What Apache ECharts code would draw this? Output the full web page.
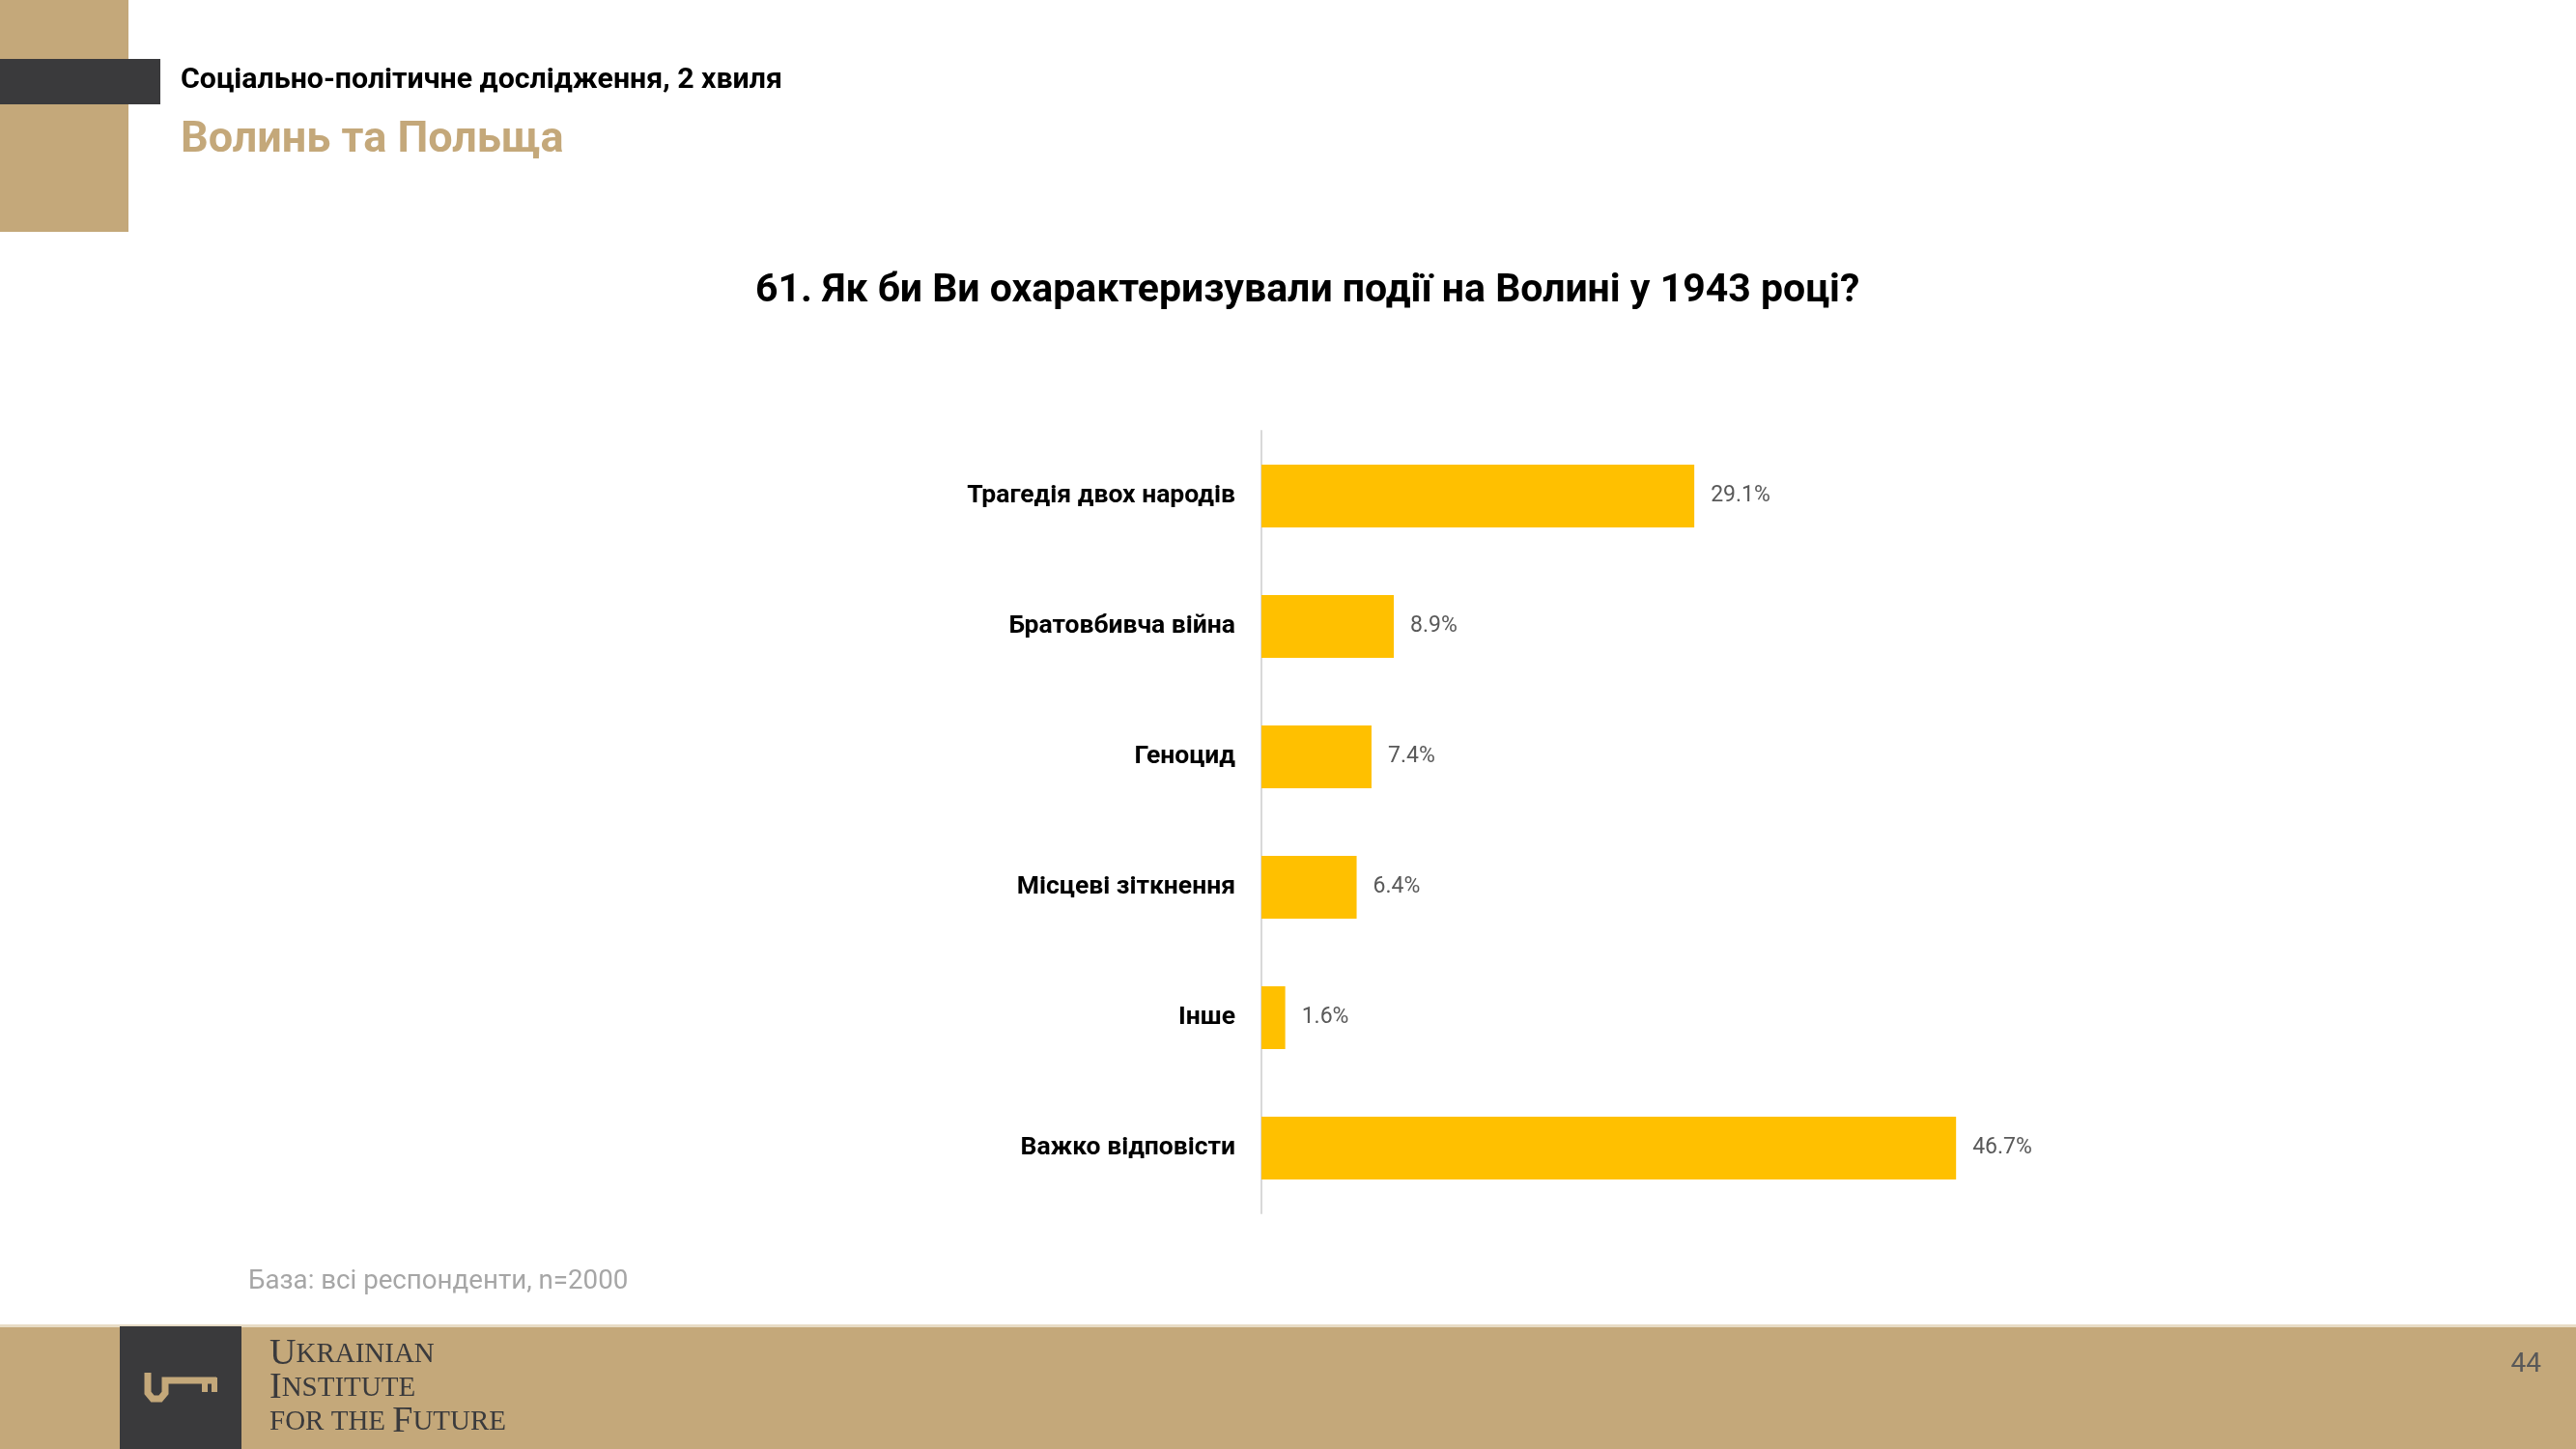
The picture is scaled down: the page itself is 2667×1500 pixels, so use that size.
<!DOCTYPE html>
<html>
<head>
<meta charset="utf-8">
<script src="https://cdn.jsdelivr.net/npm/echarts@6/dist/echarts.min.js"></script>
<style>
html,body{margin:0;padding:0;background:#fff;}
#chart{width:2667px;height:1500px;}
</style>
</head>
<body>
<div id="chart"></div>
<script>
const categories = ['Трагедія двох народів', 'Братовбивча війна', 'Геноцид', 'Місцеві зіткнення', 'Інше', 'Важко відповісти'];
const values = [29.1, 8.9, 7.4, 6.4, 1.6, 46.7];
const headerTitle = 'Соціально-політичне дослідження, 2 хвиля';
const sectionTitle = 'Волинь та Польща';
const chartTitle = '61. Як би Ви охарактеризували події на Волині у 1943 році?';
const baseNote = 'База: всі респонденти, n=2000';
const pageNumber = '44';

const TAN = '#C4A87A';
const DARK = '#3A3A3C';
const FONT = 'Roboto, "Open Sans", sans-serif';
const SERIF = '"Liberation Serif", serif';

const chart = echarts.init(document.getElementById('chart'));
chart.setOption({
  backgroundColor: '#fff',
  animation: false,
  title: {
    text: chartTitle,
    left: 777,
    top: 276,
    textStyle: {fontFamily: FONT, fontSize: 41, fontWeight: 'bold', color: '#000'}
  },
  grid: {left: 1306, top: 446, width: 770, height: 810, containLabel: false},
  xAxis: {
    type: 'value', min: 0, max: 50, show: false
  },
  yAxis: {
    type: 'category',
    data: categories,
    inverse: true,
    axisLine: {show: true, lineStyle: {color: '#D9D9D9', width: 2}},
    axisTick: {show: false},
    axisLabel: {margin: 27, fontFamily: FONT, fontSize: 26.5, fontWeight: 'bold', color: '#000'}
  },
  series: [{
    type: 'bar',
    data: values,
    barWidth: '48%',
    itemStyle: {color: '#FFC000'},
    label: {
      show: true, position: 'right', distance: 17,
      formatter: p => p.value.toFixed(1) + '%',
      fontFamily: FONT, fontSize: 23, color: '#595959'
    }
  }],
  graphic: [
    {type: 'rect', shape: {x: 0, y: 0, width: 133, height: 240}, style: {fill: TAN}, z: 1},
    {type: 'rect', shape: {x: 0, y: 61, width: 166, height: 47}, style: {fill: DARK}, z: 2},
    {type: 'text', x: 187, y: 83, style: {text: headerTitle, fontFamily: FONT, fontSize: 30.3, fontWeight: 'bold', fill: '#000', textVerticalAlign: 'middle'}},
    {type: 'text', x: 187, y: 146, style: {text: sectionTitle, fontFamily: FONT, fontSize: 45, fontWeight: 'bold', fill: TAN, textVerticalAlign: 'middle'}},
    {type: 'text', x: 257, y: 1327, style: {text: baseNote, fontFamily: FONT, fontSize: 27.7, fill: '#A6A6A6', textVerticalAlign: 'middle'}},
    {type: 'rect', shape: {x: 0, y: 1373, width: 2667, height: 127}, style: {fill: TAN}, z: 1},
    {type: 'rect', shape: {x: 0, y: 1371, width: 2667, height: 3}, style: {fill: '#E8DCC6'}, z: 1},
    {type: 'rect', shape: {x: 124, y: 1373, width: 126, height: 127}, style: {fill: DARK}, z: 2},
    {type: 'polyline', shape: {points: [[153, 1421], [153, 1442], [158, 1448], [166, 1448], [171, 1442], [171, 1429], [224, 1429]]}, style: {stroke: TAN, lineWidth: 7, fill: null}, z: 3},
    {type: 'rect', shape: {x: 209, y: 1426, width: 6, height: 15}, style: {fill: TAN}, z: 3},
    {type: 'rect', shape: {x: 219, y: 1426, width: 6, height: 15}, style: {fill: TAN}, z: 3},
    {type: 'text', x: 279, y: 1402, z: 3, style: {
      rich: {b: {fontFamily: SERIF, fontSize: 38, fill: DARK}, s: {fontFamily: SERIF, fontSize: 29, fill: DARK}},
      text: '{b|U}{s|KRAINIAN}', textVerticalAlign: 'middle'
    }},
    {type: 'text', x: 279, y: 1437, z: 3, style: {
      rich: {b: {fontFamily: SERIF, fontSize: 38, fill: DARK}, s: {fontFamily: SERIF, fontSize: 29, fill: DARK}},
      text: '{b|I}{s|NSTITUTE}', textVerticalAlign: 'middle'
    }},
    {type: 'text', x: 279, y: 1472, z: 3, style: {
      rich: {b: {fontFamily: SERIF, fontSize: 38, fill: DARK}, s: {fontFamily: SERIF, fontSize: 29, fill: DARK}},
      text: '{s|FOR THE }{b|F}{s|UTURE}', textVerticalAlign: 'middle'
    }},
    {type: 'text', x: 2631, y: 1413, z: 3, style: {text: pageNumber, fontFamily: FONT, fontSize: 28, fill: '#595959', textAlign: 'right', textVerticalAlign: 'middle'}}
  ]
});
</script>
</body>
</html>
